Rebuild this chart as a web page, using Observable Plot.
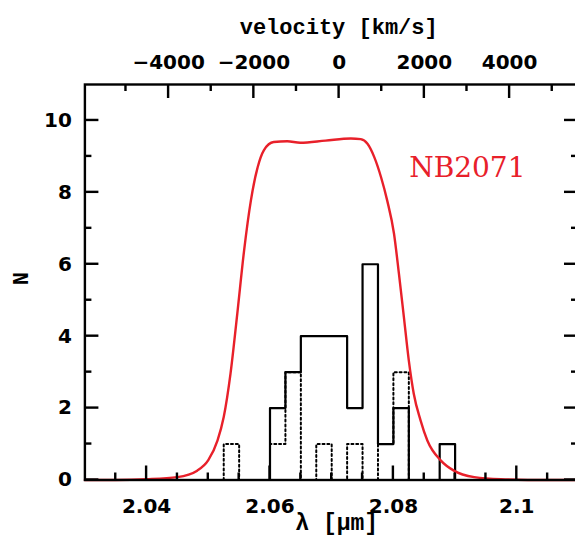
<!DOCTYPE html>
<html>
<head>
<meta charset="utf-8">
<script src="https://cdn.jsdelivr.net/npm/d3@7"></script>
<script src="https://cdn.jsdelivr.net/npm/@observablehq/plot@0.6"></script>
<style>
  html, body { margin: 0; padding: 0; background: #fff; }
  #chart svg { display: block; }
</style>
</head>
<body>
<div id="chart"></div>
<script>
// ---- data ----
const binWidth = 0.0025;
// solid histogram: lower bin edges (µm) and counts
const solidEdges  = [2.0600, 2.0625, 2.0650, 2.0675, 2.0700, 2.0725, 2.0750, 2.0775, 2.0800, 2.0825, 2.0850, 2.0875];
const solidCounts = [2, 3, 4, 4, 4, 2, 6, 1, 2, 0, 0, 1];
// dotted histogram
const dottedEdges  = [2.0525, 2.0550, 2.0575, 2.0600, 2.0625, 2.0650, 2.0675, 2.0700, 2.0725, 2.0750, 2.0775, 2.0800];
const dottedCounts = [1, 0, 0, 1, 3, 0, 1, 0, 1, 0, 1, 3];
// NB2071 filter transmission curve (scaled)
const filterLambda = [2.030, 2.035, 2.040, 2.045, 2.0482, 2.0500, 2.0515, 2.0525, 2.0536, 2.0547, 2.0558, 2.0569, 2.0580, 2.0590, 2.0606, 2.0628, 2.0649, 2.0690, 2.0731, 2.0747, 2.0758, 2.0769, 2.0780, 2.0790, 2.0801, 2.0809, 2.0817, 2.0825, 2.0833, 2.0844, 2.0855, 2.0877, 2.0898, 2.0931, 2.0974, 2.1050, 2.1100];
const filterValue  = [0.00, 0.00, 0.02, 0.08, 0.26, 0.55, 1.10, 1.75, 2.96, 4.63, 6.38, 7.77, 8.70, 9.17, 9.40, 9.42, 9.38, 9.44, 9.50, 9.48, 9.35, 8.98, 8.42, 7.77, 6.85, 5.73, 4.53, 3.32, 2.40, 1.66, 1.10, 0.54, 0.26, 0.08, 0.02, 0.00, 0.00];
// axes
const lamMajor = [2.04, 2.06, 2.08, 2.10];
const lamMajorLabels = ["2.04", "2.06", "2.08", "2.1"];
const lamMinor = [2.035, 2.045, 2.05, 2.055, 2.065, 2.07, 2.075, 2.085, 2.09, 2.095, 2.105];
const nMajor = [0, 2, 4, 6, 8, 10];
const nMinor = [1, 3, 5, 7, 9];
const velMajor = [-4000, -2000, 0, 2000, 4000];
const velMinor = [-5000, -3000, -1000, 1000, 3000, 5000];
const lambda0 = 2.0712;      // µm, zero velocity
const cKms = 299792.458;

// ---- layout ----
const W = 575, H = 548;
const mL = 84.4, mR = -3, mT = 84, mB = 68.5;
const xDom = [2.03, 2.11], yDom = [0, 11];
const xPerPx = (xDom[1] - xDom[0]) / (W - mR - mL);
const yPerPx = (yDom[1] - yDom[0]) / (H - mT - mB);
const majLen = 14, minLen = 7, tickW = 2.4;

const velToLam = v => lambda0 * (1 + v / cKms);

function steps(edges, counts) {
  const pts = [{x: edges[0], y: 0}];
  edges.forEach((e, i) => {
    pts.push({x: e, y: counts[i]});
    pts.push({x: e + binWidth, y: counts[i]});
  });
  pts.push({x: edges[edges.length - 1] + binWidth, y: 0});
  return pts;
}
const solidPts = steps(solidEdges, solidCounts);
const dottedPts = steps(dottedEdges, dottedCounts);
const filterPts = filterLambda.map((l, i) => ({x: l, y: filterValue[i]}));

// ticks as thin filled rectangles, placed through the x/y scales
const tickRects = [];
function addX(vals, len, f, y0, dir) {
  vals.forEach(v => {
    const x = f(v), hw = tickW / 2 * xPerPx;
    const ya = y0, yb = y0 + dir * len * yPerPx;
    tickRects.push({x1: x - hw, x2: x + hw, y1: Math.min(ya, yb), y2: Math.max(ya, yb)});
  });
}
function addY(vals, len, x0, dir) {
  vals.forEach(v => {
    const hh = tickW / 2 * yPerPx;
    const xa = x0, xb = x0 + dir * len * xPerPx;
    tickRects.push({x1: Math.min(xa, xb), x2: Math.max(xa, xb), y1: v - hh, y2: v + hh});
  });
}
addX(lamMajor, majLen, d => d, yDom[0], 1);
addX(lamMinor, minLen, d => d, yDom[0], 1);
addX(velMajor, majLen, velToLam, yDom[1], -1);
addX(velMinor, minLen, velToLam, yDom[1], -1);
addY(nMajor, majLen, xDom[0], 1);
addY(nMinor, minLen, xDom[0], 1);
addY(nMajor, majLen, xDom[1], -1);
addY(nMinor, minLen, xDom[1], -1);

const tickFont = "DejaVu Sans";
const titleFont = "Liberation Mono";

const chart = Plot.plot({
  width: W, height: H,
  marginLeft: mL, marginRight: mR, marginTop: mT, marginBottom: mB,
  x: {domain: xDom, axis: null},
  y: {domain: yDom, axis: null},
  marks: [
    // histograms
    Plot.line(dottedPts, {x: "x", y: "y", stroke: "black", strokeWidth: 2, strokeDasharray: "2,2.8"}),
    Plot.line(solidPts, {x: "x", y: "y", stroke: "black", strokeWidth: 2.2}),
    // filter curve
    Plot.line(filterPts, {x: "x", y: "y", stroke: "#e8202a", strokeWidth: 2.4, curve: "monotone-x"}),
    // frame and ticks
    Plot.frame({stroke: "black", strokeWidth: 2.4}),
    Plot.rect(tickRects, {x1: "x1", x2: "x2", y1: "y1", y2: "y2", fill: "black", inset: 0}),
    // tick labels
    Plot.text(lamMajor, {x: d => d, y: () => yDom[0], dy: 27, text: (d, i) => lamMajorLabels[i],
      fontFamily: tickFont, fontWeight: "bold", fontSize: 20, fill: "black"}),
    Plot.text(nMajor, {x: () => xDom[0], y: d => d, dx: -13, textAnchor: "end", text: d => String(d),
      fontFamily: tickFont, fontWeight: "bold", fontSize: 20, fill: "black"}),
    Plot.text(velMajor, {x: d => velToLam(d), y: () => yDom[1], dy: -22, text: d => (d < 0 ? "\u2212" + Math.abs(d) : String(d)),
      fontFamily: tickFont, fontWeight: "bold", fontSize: 20, fill: "black"}),
    // axis titles
    Plot.text(["velocity [km/s]"], {frameAnchor: "top", dx: 7, dy: -66, text: d => d,
      fontFamily: titleFont, fontWeight: "bold", fontSize: 22, fill: "black"}),
    Plot.text(["\u03bb [\u03bcm]"], {frameAnchor: "bottom", dx: 5, dy: 50, text: d => d,
      fontFamily: titleFont, fontWeight: "bold", fontSize: 23, fill: "black"}),
    Plot.text(["N"], {frameAnchor: "left", dx: -64, dy: 3, rotate: -90, text: d => d,
      fontFamily: titleFont, fontWeight: "bold", fontSize: 22, fill: "black"}),
    // filter label
    Plot.text(["NB2071"], {frameAnchor: "top-right", dx: -53, dy: 73, textAnchor: "end", text: d => d,
      fontFamily: "DejaVu Serif", fontSize: 28, fill: "#e8202a"})
  ]
});
document.getElementById("chart").appendChild(chart);
</script>
</body>
</html>
